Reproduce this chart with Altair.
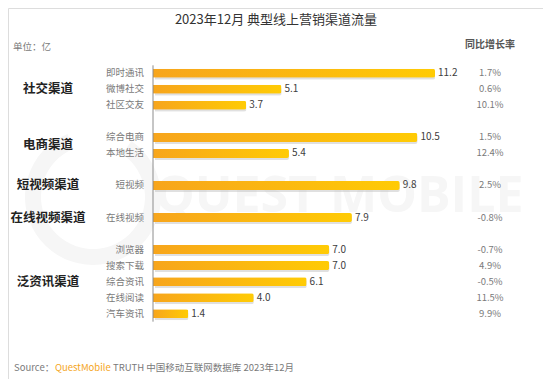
import altair as alt
import pandas as pd

# ---- data ----
groups = ["社交渠道", "社交渠道", "社交渠道", "电商渠道", "电商渠道", "短视频渠道", "在线视频渠道",
          "泛资讯渠道", "泛资讯渠道", "泛资讯渠道", "泛资讯渠道", "泛资讯渠道"]
channels = ["即时通讯", "微博社交", "社区交友", "综合电商", "本地生活", "短视频", "在线视频",
            "浏览器", "搜索下载", "综合资讯", "在线阅读", "汽车资讯"]
values = [11.2, 5.1, 3.7, 10.5, 5.4, 9.8, 7.9, 7.0, 7.0, 6.1, 4.0, 1.4]
growth = ["1.7%", "0.6%", "10.1%", "1.5%", "12.4%", "2.5%", "-0.8%",
          "-0.7%", "4.9%", "-0.5%", "11.5%", "9.9%"]
rows = [0, 1, 2, 4, 5, 7, 9, 11, 12, 13, 14, 15]

group_names = ["社交渠道", "电商渠道", "短视频渠道", "在线视频渠道", "泛资讯渠道"]
group_rows = [1, 4.5, 7, 9, 13]

df = pd.DataFrame({"group": groups, "channel": channels, "value": values,
                   "growth": growth, "row": rows})
gdf = pd.DataFrame({"group": group_names, "row": group_rows})

W, H = 535, 371
k = 282 / 11.2
x0 = 145
xs = alt.Scale(domain=[-x0 / k, (W - x0) / k], range=[0, W], nice=False, zero=False)
step = 247 / 15
ys = alt.Scale(domain=[-62 / step, (H - 62) / step], range=[0, H], nice=False, zero=False)

FONT = "Noto Sans CJK SC"
base = alt.Chart(df)

X = alt.X("value:Q", scale=xs, axis=None)
Y = alt.Y("row:Q", scale=ys, axis=None)

# watermark
wm_text = alt.Chart(pd.DataFrame({"t": ["QUEST MOBILE"]})).mark_text(
    font="Open Sans", fontSize=50, fontWeight="bold", color="#f6f6f6", align="left", baseline="middle"
).encode(text="t:N", x=alt.value(147), y=alt.value(189))
wm_ring = alt.Chart(pd.DataFrame({"v": [1]})).mark_arc(
    innerRadius=52, outerRadius=68, color="#f6f6f6", theta=0.6, theta2=5.9
).encode(x=alt.value(85), y=alt.value(189))

shadow = base.mark_bar(orient="horizontal", size=9, color="#bbbbbb", opacity=0.45,
                       xOffset=2, yOffset=2, cornerRadiusEnd=2).encode(x=X, y=Y)

bars = base.mark_bar(
    orient="horizontal", size=9, cornerRadiusEnd=2,
    color=alt.Gradient(gradient="linear",
                       stops=[alt.GradientStop(color="#F7A51C", offset=0),
                              alt.GradientStop(color="#FFCB05", offset=1)],
                       x1=0, x2=1, y1=0, y2=0)
).encode(x=X, y=Y)

axis_line = alt.Chart(pd.DataFrame({"a": [0], "b": [-0.5], "c": [15.5]})).mark_rule(
    color="#8c8c8c", strokeWidth=1
).encode(x=alt.X("a:Q", scale=xs, axis=None), y=alt.Y("b:Q", scale=ys, axis=None), y2="c:Q")

val_labels = base.mark_text(font=FONT, fontSize=10, color="#404040", align="left",
                            baseline="middle", dx=3).encode(
    x=X, y=Y, text=alt.Text("value:Q", format=".1f"))

sub_labels = base.mark_text(font=FONT, fontSize=9.5, color="#7a7a7a", align="right",
                            baseline="middle").encode(
    x=alt.value(136), y=Y, text="channel:N")

growth_labels = base.mark_text(font=FONT, fontSize=9.5, color="#7a7a7a", align="center",
                               baseline="middle").encode(
    x=alt.value(482), y=Y, text="growth:N")

group_labels = alt.Chart(gdf).mark_text(font=FONT, fontSize=12.5, fontWeight="bold",
                                        color="#222222", align="center",
                                        baseline="middle").encode(
    x=alt.value(40), y=alt.Y("row:Q", scale=ys, axis=None), text="group:N")

title = alt.Chart(pd.DataFrame({"t": ["2023年12月 典型线上营销渠道流量"]})).mark_text(
    font=FONT, fontSize=13, color="#333333", align="center", baseline="middle"
).encode(text="t:N", x=alt.value(268), y=alt.value(12))

unit = alt.Chart(pd.DataFrame({"t": ["单位：亿"]})).mark_text(
    font=FONT, fontSize=9.5, color="#7a7a7a", align="left", baseline="middle"
).encode(text="t:N", x=alt.value(5), y=alt.value(39))

header = alt.Chart(pd.DataFrame({"t": ["同比增长率"]})).mark_text(
    font=FONT, fontSize=10, fontWeight="bold", color="#555555", align="center", baseline="middle"
).encode(text="t:N", x=alt.value(482), y=alt.value(37))

SRC_Y = 360
src1 = alt.Chart(pd.DataFrame({"t": ["Source："]})).mark_text(
    font=FONT, fontSize=9.5, color="#7a7a7a", align="left", baseline="middle"
).encode(text="t:N", x=alt.value(6), y=alt.value(SRC_Y))
src2 = alt.Chart(pd.DataFrame({"t": ["QuestMobile"]})).mark_text(
    font=FONT, fontSize=9.5, color="#F5A623", align="left", baseline="middle"
).encode(text="t:N", x=alt.value(47), y=alt.value(SRC_Y))
src3 = alt.Chart(pd.DataFrame({"t": ["TRUTH 中国移动互联网数据库 2023年12月"]})).mark_text(
    font=FONT, fontSize=9.5, color="#7a7a7a", align="left", baseline="middle"
).encode(text="t:N", x=alt.value(105), y=alt.value(SRC_Y))

chart = alt.layer(
    wm_ring, wm_text, shadow, bars, axis_line, val_labels, sub_labels, growth_labels,
    group_labels, title, unit, header, src1, src2, src3
).properties(
    width=W, height=H, padding=0, autosize=alt.AutoSizeParams(type="none")
).configure_view(stroke=None).configure(background="white")

chart.save("out.html", embed_options={"renderer": "svg", "actions": False})
